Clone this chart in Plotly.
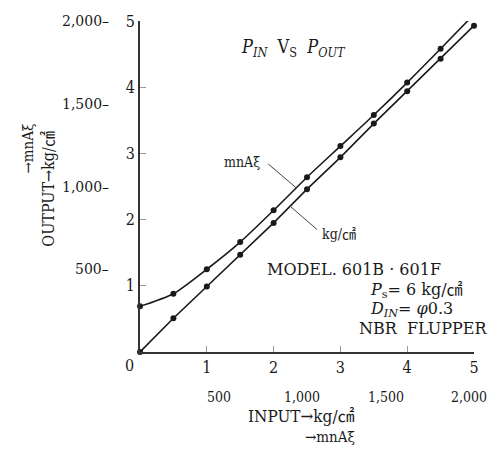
import plotly.graph_objects as go

# ---- data ----
x_input = [0, 0.5, 1, 1.5, 2, 2.5, 3, 3.5, 4, 4.5, 5]
out_mna = [0.69, 0.88, 1.25, 1.66, 2.14, 2.64, 3.11, 3.58, 4.07, 4.58, 5.10]
out_kg = [0.00, 0.51, 0.99, 1.47, 1.95, 2.46, 2.94, 3.45, 3.94, 4.43, 4.93]
main_ticks = [1, 2, 3, 4, 5]
sec_vals = [500, 1000, 1500, 2000]
sec_text = ["500", "1,000", "1,500", "2,000"]
SEC_PER_UNIT = 400  # 2,000 on the secondary scale == 5 on the main scale

COND = "DejaVu Serif Condensed, Liberation Serif, Noto Sans CJK JP, serif"
WIDE = "DejaVu Serif, Liberation Serif, Noto Sans CJK JP, serif"
INK = "#1a1a1a"

fig = go.Figure()
fig.add_trace(go.Scatter(
    x=x_input, y=out_mna, mode="lines+markers",
    line=dict(color=INK, width=1.6, shape="spline", smoothing=0.7),
    marker=dict(color=INK, size=6), cliponaxis=False, showlegend=False))
fig.add_trace(go.Scatter(
    x=x_input, y=out_kg, mode="lines+markers",
    line=dict(color=INK, width=1.6),
    marker=dict(color=INK, size=6), cliponaxis=False, showlegend=False))


def note(x, y, text, ref="paper", size=14, family=COND, xanchor="center", **kw):
    return dict(x=x, y=y, xref="x" if ref == "data" else "paper",
                yref="y" if ref == "data" else "paper", text=text, showarrow=False,
                xanchor=xanchor, yanchor="middle",
                font=dict(size=size, family=family, color=INK), **kw)


ann = []
ann.append(note(0, 0, "0", ref="data", size=16, xshift=-11, yshift=-13))
for v, t in zip(sec_vals, sec_text):
    ann.append(note(0, v / SEC_PER_UNIT, t + "–", ref="data", size=14, family=WIDE,
                    xanchor="right", xshift=-29))
for v, t in zip(sec_vals, sec_text):
    ann.append(note(v / SEC_PER_UNIT, 0, t, ref="data", size=14, yshift=-45, xshift=-5))
# axis titles
ann.append(note(-0.275, 0.494, "OUTPUT→kg/㎠", size=16, textangle=-90))
ann.append(note(-0.335, 0.615, "→mnAξ", size=15, textangle=-90))
ann.append(note(0.485, -0.192, "INPUT→kg/㎠", size=17))
ann.append(note(0.569, -0.258, "→mnAξ", size=15))
# title
ann.append(note(0.461, 0.917,
                "<i>P</i><sub><i>IN</i></sub>  V<sub>S</sub>  <i>P</i><sub><i>OUT</i></sub>",
                size=18))
# series labels
ann.append(note(1.23, 2.87, "mnAξ", ref="data", xanchor="left", size=14))
ann.append(note(2.69, 1.78, "kg/㎠", ref="data", xanchor="left", size=14))
# model block
ann.append(note(0.374, 0.2485, "MODEL. 601B · 601F", xanchor="left", size=16, family=WIDE))
ann.append(note(0.683, 0.186, "<i>P</i><sub>s</sub>= 6 kg/㎠", xanchor="left", size=16, family=WIDE))
ann.append(note(0.683, 0.127, "<i>D</i><sub><i>IN</i></sub>= <i>φ</i>0.3", xanchor="left",
                size=16, family=WIDE))
ann.append(note(0.650, 0.071, "NBR  FLUPPER", xanchor="left", size=16, family=WIDE))

shapes = [
    dict(type="line", xref="x", yref="y", x0=1.92, y0=2.84, x1=2.35, y1=2.47,
         line=dict(color="#444", width=1)),
    dict(type="line", xref="x", yref="y", x0=2.25, y0=2.20, x1=2.65, y1=1.85,
         line=dict(color="#444", width=1)),
]

fig.update_layout(
    width=498, height=451,
    margin=dict(l=140, r=24, t=14, b=99),
    paper_bgcolor="white", plot_bgcolor="white",
    font=dict(family=COND, color=INK, size=15),
    annotations=ann, shapes=shapes,
    xaxis=dict(range=[0, 5], tickvals=main_ticks, ticktext=[str(t) for t in main_ticks],
               showline=True, linecolor="#333", linewidth=2, ticks="inside", ticklen=6,
               tickcolor="#999", showgrid=False, zeroline=False, tickfont=dict(size=16)),
    yaxis=dict(range=[0, 5], tickvals=main_ticks, ticktext=[str(t) for t in main_ticks],
               showline=True, linecolor="#333", linewidth=2, ticks="inside", ticklen=6,
               tickcolor="#999", showgrid=False, zeroline=False, tickfont=dict(size=16)),
)

fig.write_html("out.html", config={"displayModeBar": False},
               post_script="document.body.style.margin='0';")
